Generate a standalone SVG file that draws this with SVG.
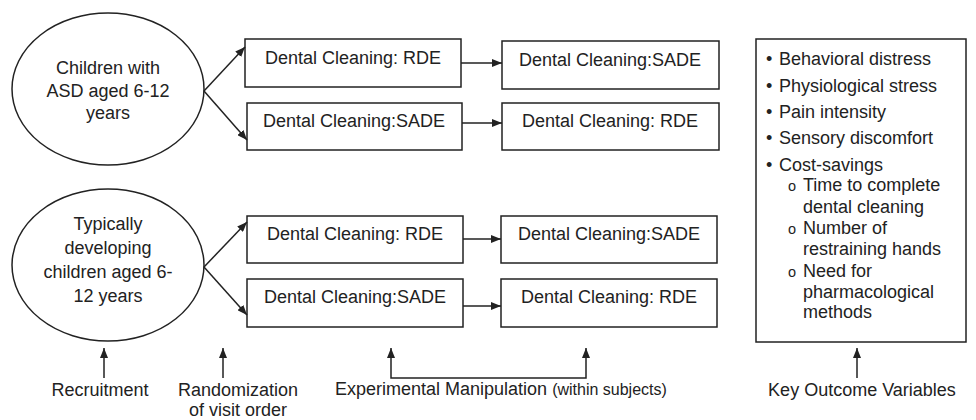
<svg xmlns="http://www.w3.org/2000/svg" width="976" height="420" viewBox="0 0 976 420">
<style>
text{font-family:"Liberation Sans",Arial,sans-serif;font-size:18px;fill:#222}
.c{text-anchor:middle}
.sm{font-size:14.5px}
.par{font-size:16px}
.shape{fill:#fff;stroke:#222;stroke-width:1.5}
.ln{fill:none;stroke:#222;stroke-width:1.5}
</style>
<defs>
<marker id="ah" markerWidth="10" markerHeight="8" refX="10" refY="4" orient="auto-start-reverse" markerUnits="userSpaceOnUse">
<path d="M0,0 L10,4 L0,8 Z" fill="#222"/>
</marker>
</defs>
<rect width="976" height="420" fill="#fff"/>

<g id="asd">
<ellipse class="shape" cx="108" cy="89" rx="96" ry="76"/>
<text class="c" x="108" y="74">Children with</text>
<text class="c" x="108" y="97">ASD aged 6-12</text>
<text class="c" x="108" y="119">years</text>
</g>
<g id="td">
<ellipse class="shape" cx="108" cy="265" rx="96" ry="76"/>
<text class="c" x="108" y="230">Typically</text>
<text class="c" x="108" y="254">developing</text>
<text class="c" x="108" y="278">children aged 6-</text>
<text class="c" x="108" y="302">12 years</text>
</g>

<g id="b1"><rect class="shape" x="245" y="39" width="216" height="48"/><text class="c" x="353" y="64">Dental Cleaning: RDE</text></g>
<g id="b2"><rect class="shape" x="502" y="41" width="217" height="48"/><text class="c" x="610" y="66">Dental Cleaning:SADE</text></g>
<g id="b3"><rect class="shape" x="247" y="103" width="215" height="47"/><text class="c" x="354" y="127">Dental Cleaning:SADE</text></g>
<g id="b4"><rect class="shape" x="502" y="103" width="217" height="47"/><text class="c" x="610" y="127">Dental Cleaning: RDE</text></g>
<g id="b5"><rect class="shape" x="247" y="216" width="216" height="47"/><text class="c" x="355" y="240">Dental Cleaning: RDE</text></g>
<g id="b6"><rect class="shape" x="501" y="216" width="216" height="47"/><text class="c" x="609" y="240">Dental Cleaning:SADE</text></g>
<g id="b7"><rect class="shape" x="247" y="279" width="216" height="48"/><text class="c" x="355" y="303">Dental Cleaning:SADE</text></g>
<g id="b8"><rect class="shape" x="501" y="279" width="216" height="48"/><text class="c" x="609" y="303">Dental Cleaning: RDE</text></g>

<g id="outcomes">
<rect class="shape" x="756" y="39" width="210" height="303"/>
<text x="766" y="65">•</text><text x="779" y="65">Behavioral distress</text>
<text x="766" y="92">•</text><text x="779" y="92">Physiological stress</text>
<text x="766" y="118">•</text><text x="779" y="118">Pain intensity</text>
<text x="766" y="144">•</text><text x="779" y="144">Sensory discomfort</text>
<text x="766" y="171">•</text><text x="779" y="171">Cost-savings</text>
<text x="788" y="191" class="sm">o</text><text x="803" y="191">Time to complete</text>
<text x="803" y="213">dental cleaning</text>
<text x="788" y="234" class="sm">o</text><text x="803" y="234">Number of</text>
<text x="803" y="255">restraining hands</text>
<text x="788" y="277" class="sm">o</text><text x="803" y="277">Need for</text>
<text x="803" y="298">pharmacological</text>
<text x="803" y="318">methods</text>
</g>

<g id="labels">
<text class="c" x="100" y="396">Recruitment</text>
<text class="c" x="238" y="396">Randomization</text>
<text class="c" x="238" y="416">of visit order</text>
<text x="335" y="395">Experimental Manipulation <tspan class="par">(within subjects)</tspan></text>
<text class="c" x="862" y="396">Key Outcome Variables</text>
</g>

<g id="connectors">
<line class="ln" x1="204" y1="91" x2="245" y2="47" marker-end="url(#ah)"/>
<line class="ln" x1="204" y1="91" x2="247" y2="140" marker-end="url(#ah)"/>
<line class="ln" x1="204" y1="267" x2="247" y2="222" marker-end="url(#ah)"/>
<line class="ln" x1="204" y1="267" x2="247" y2="315" marker-end="url(#ah)"/>
<line class="ln" x1="461" y1="63" x2="502" y2="63" marker-end="url(#ah)"/>
<line class="ln" x1="462" y1="123" x2="502" y2="123" marker-end="url(#ah)"/>
<line class="ln" x1="463" y1="239" x2="501" y2="239" marker-end="url(#ah)"/>
<line class="ln" x1="463" y1="306" x2="501" y2="306" marker-end="url(#ah)"/>
<line class="ln" x1="104" y1="378" x2="104" y2="348" marker-end="url(#ah)"/>
<line class="ln" x1="223" y1="378" x2="223" y2="348" marker-end="url(#ah)"/>
<polyline class="ln" points="391,348 391,378 586,378 586,348" marker-start="url(#ah)" marker-end="url(#ah)"/>
<line class="ln" x1="857" y1="378" x2="857" y2="348" marker-end="url(#ah)"/>
</g>
</svg>
